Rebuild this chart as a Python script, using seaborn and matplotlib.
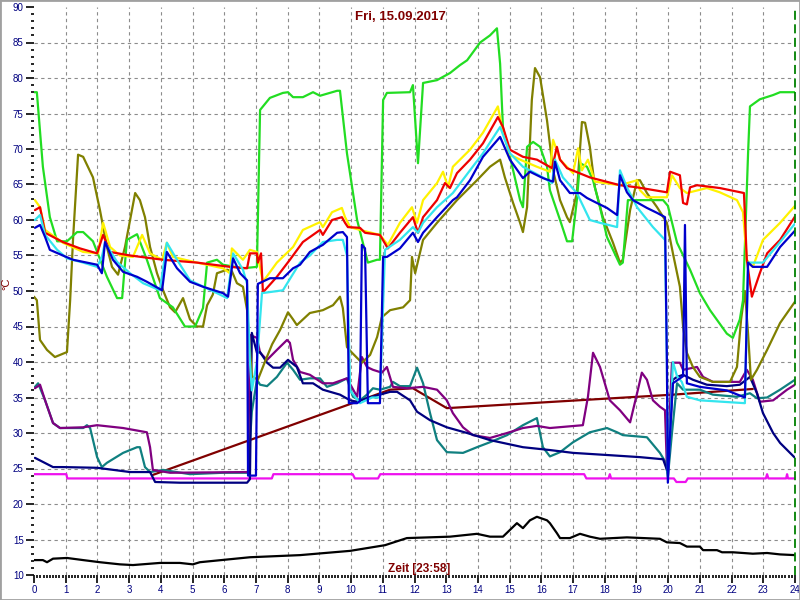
import matplotlib
matplotlib.use("Agg")
import matplotlib.pyplot as plt
from matplotlib.patches import Rectangle
from matplotlib.ticker import MultipleLocator
import seaborn as sns

# --- data (hour of day, temperature in °C) ---
green_h = [0.00, 0.09, 0.28, 0.50, 0.73, 1.04, 1.36, 1.55, 1.86, 2.30,
           2.62, 2.78, 2.93, 3.25, 3.56, 3.97, 4.38, 4.76, 5.08, 5.33,
           5.46, 5.77, 5.96, 6.59, 7.03, 7.13, 7.44, 7.85, 8.01, 8.17,
           8.48, 8.80, 9.02, 9.56, 9.65, 9.87, 10.19, 10.53, 10.82, 10.91,
           11.01, 11.13, 11.86, 11.95, 12.11, 12.27, 12.71, 13.12, 13.43, 13.66,
           14.07, 14.38, 14.60, 14.70, 14.79, 15.11, 15.33, 15.42, 15.55, 15.74,
           15.96, 16.18, 16.27, 16.59, 16.81, 16.97, 17.12, 17.22, 17.44, 17.63,
           17.85, 18.07, 18.48, 18.57, 18.73, 19.84, 19.99, 20.28, 20.69, 21.00,
           21.32, 21.85, 22.04, 22.26, 22.36, 22.52, 22.58, 22.89, 23.31, 23.53,
           24.00]
green_t = [78, 78, 67.5, 60.4, 57, 57, 58.3, 58.3, 57, 52,
           49, 49, 57.2, 58, 54.4, 49, 47.7, 45, 45, 47.6,
           54, 54.4, 53.7, 53.2, 53.4, 75.5, 77.2, 77.9, 78, 77.3,
           77.3, 78, 77.5, 78.2, 78.2, 69.4, 60, 54, 54.4, 54.4,
           76.9, 77.9, 78, 79, 68, 79.3, 79.7, 80.7, 81.8, 82.5,
           85, 86, 87, 82, 73, 67, 62.8, 61.8, 70.3, 71,
           70.3, 67.5, 64.2, 60, 57, 57, 62.8, 68, 67.5, 65.6,
           61.8, 57.6, 53.7, 54, 62.8, 62.8, 62, 56.8, 53, 49.7,
           47.3, 44, 43.4, 46, 48.7, 69.4, 76, 77, 77.6, 78,
           78]

yellow_h = [0.03, 0.19, 0.35, 0.91, 1.55, 2.02, 2.18, 2.40, 2.71, 3.12,
            3.41, 3.66, 4.04, 4.19, 4.38, 5.14, 5.96, 6.18, 6.24, 6.59,
            6.81, 7.03, 7.22, 7.66, 8.17, 8.48, 9.02, 9.11, 9.40, 9.71,
            9.81, 9.97, 10.28, 10.91, 11.16, 11.54, 11.92, 12.08, 12.27, 12.71,
            12.90, 13.06, 13.21, 13.75, 14.16, 14.63, 14.79, 15.01, 15.33, 15.86,
            16.27, 16.37, 16.59, 17.00, 17.16, 17.28, 17.47, 17.69, 18.48, 19.02,
            19.11, 19.33, 19.96, 20.12, 20.37, 20.59, 21.22, 21.63, 22.17, 22.36,
            22.48, 22.67, 22.99, 23.53, 24.00]
yellow_t = [62.8, 61.8, 58.6, 56.8, 55.5, 55.3, 59.6, 56.2, 55, 54.8,
            57.9, 55.3, 54.4, 56.8, 54.8, 54, 53.2, 52.5, 56, 54.4,
            55.8, 55.5, 51.3, 54, 56.2, 58.6, 59.7, 59, 61.1, 61.7,
            60.4, 59, 58.6, 57.9, 56.5, 59.6, 61.8, 59.6, 62.8, 65.2,
            66.8, 64.6, 67.5, 69.9, 72.3, 76, 72.3, 69.2, 68.5, 67.5,
            66.8, 71.3, 68.5, 66.6, 70.1, 67, 68.5, 65.4, 64.9, 65.6,
            64.2, 63.2, 63.2, 66.3, 64.5, 63.8, 64.5, 63.9, 62.8, 61.1,
            54.4, 53.4, 57.2, 59.6, 62]

red_h = [0.03, 0.19, 0.35, 0.91, 1.45, 1.99, 2.18, 2.40, 3.03, 4.07,
         5.14, 6.18, 6.72, 6.81, 7.03, 7.06, 7.16, 7.22, 7.66, 8.07,
         8.48, 9.02, 9.11, 9.40, 9.71, 9.81, 9.90, 10.28, 10.44, 10.91,
         11.16, 11.54, 11.95, 12.11, 12.27, 12.71, 12.96, 13.12, 13.34, 13.75,
         14.16, 14.63, 14.79, 15.01, 15.42, 15.86, 16.34, 16.49, 16.59, 16.81,
         17.53, 18.48, 19.02, 19.96, 20.06, 20.37, 20.47, 20.59, 20.69, 20.91,
         21.63, 22.39, 22.48, 22.64, 22.89, 23.12, 23.53, 24.00]
red_t = [61.4, 61.8, 58.2, 56.9, 56, 55.3, 57.9, 55.5, 55, 54.4,
         54, 53.4, 53.2, 55.3, 55.3, 54, 55.3, 49.8, 52, 54.4,
         56.9, 58.6, 57.9, 60, 60.4, 59.6, 59, 58.9, 58.2, 57.9,
         56, 58.2, 60.4, 58.2, 60.4, 62.8, 65.2, 64.5, 66.6, 68.5,
         70.8, 74.5, 73.1, 69.9, 68.9, 68.5, 67.3, 70.3, 68.5, 67.3,
         66, 64.9, 64.6, 63.9, 66.8, 66.3, 62.4, 62.2, 64.6, 64.9,
         64.5, 63.8, 54.4, 49.2, 52.5, 55.3, 57.2, 60.5]

cyan_h = [0.03, 0.19, 0.35, 0.73, 1.04, 1.55, 1.99, 2.14, 2.24, 2.62,
          3.03, 3.44, 3.97, 4.19, 4.51, 4.92, 5.77, 6.09, 6.28, 6.59,
          6.72, 6.81, 6.87, 7.03, 7.19, 7.85, 8.39, 8.70, 9.11, 9.56,
          9.74, 9.87, 9.97, 10.28, 10.66, 10.91, 11.07, 11.54, 11.95, 12.11,
          12.27, 12.71, 13.21, 13.75, 14.16, 14.70, 15.01, 15.42, 16.05, 16.34,
          16.43, 16.68, 17.12, 17.53, 17.85, 18.39, 18.48, 18.70, 19.02, 19.52,
          19.90, 19.96, 19.99, 20.06, 20.15, 20.28, 20.43, 20.59, 21.00, 22.42,
          22.52, 22.99, 23.53, 24.00]
cyan_t = [60, 60.7, 57.9, 55.8, 54.6, 54, 53.4, 54.8, 56.8, 54.1,
          52.5, 51.1, 50.1, 56.8, 54.4, 51.5, 49.7, 49, 55.3, 53,
          51, 40, 36, 40, 49.7, 50.1, 54, 55, 56.9, 57.2,
          57.2, 55, 36, 34.2, 35, 35, 55.8, 57.2, 59, 58.2,
          59.6, 61.8, 63.8, 67, 69.4, 73.1, 69.4, 67.5, 66, 65.2,
          68.5, 66, 63.8, 60, 59.6, 59, 67, 64.6, 61.8, 59,
          57.2, 40, 24.5, 30, 40, 38, 37.2, 35.1, 34.6, 34.2,
          54, 54, 56.9, 59.5]

blue_h = [0.03, 0.19, 0.35, 0.50, 0.91, 1.23, 1.99, 2.14, 2.24, 2.49,
          2.81, 3.25, 3.56, 4.04, 4.19, 4.51, 4.92, 5.33, 5.96, 6.12,
          6.28, 6.50, 6.72, 6.75, 6.81, 7.00, 7.06, 7.44, 7.85, 8.17,
          8.39, 8.70, 9.11, 9.56, 9.74, 9.87, 9.93, 10.19, 10.28, 10.34,
          10.44, 10.53, 10.91, 11.01, 11.13, 11.54, 11.95, 12.11, 12.27, 12.71,
          13.21, 13.34, 13.75, 14.16, 14.70, 15.01, 15.42, 15.64, 16.05, 16.37,
          16.43, 16.59, 16.90, 17.22, 17.44, 17.75, 18.07, 18.39, 18.48, 18.70,
          18.89, 19.33, 19.65, 19.90, 19.96, 19.99, 20.06, 20.15, 20.47, 20.53,
          20.59, 21.00, 21.85, 22.42, 22.52, 22.67, 23.12, 23.53, 24.00]
blue_t = [58.9, 59.3, 57.6, 55.8, 55, 54.4, 53.7, 52.5, 56.9, 54.4,
          52.7, 52, 51.3, 50.1, 55.5, 53.2, 51.3, 50.6, 49.7, 49.2,
          54.6, 52.5, 51.5, 24, 24, 24, 51, 51.8, 51.8, 53.2,
          53.7, 55.5, 56.5, 58.2, 58.3, 57.6, 34.2, 34.2, 34.5, 56.5,
          56, 34.2, 34.2, 54.8, 54.8, 56, 58.2, 56.9, 58.2, 60.4,
          62.8, 63.2, 65.6, 68.9, 71.7, 68.5, 65.9, 66.8, 65.9, 65.4,
          68.2, 65.6, 63.8, 63.8, 63.1, 62.4, 61.7, 60.7, 66.3, 63.9,
          62.8, 61.7, 61, 60.4, 40, 23, 30, 37, 38, 59.3,
          37, 36.5, 36, 35, 54, 53.4, 53.4, 56.2, 58.5]

olive_h = [0.00, 0.09, 0.19, 0.41, 0.66, 1.04, 1.14, 1.23, 1.39, 1.55,
           1.86, 2.08, 2.30, 2.46, 2.65, 2.87, 3.03, 3.19, 3.34, 3.50,
           3.66, 3.88, 4.07, 4.29, 4.45, 4.70, 4.92, 5.14, 5.33, 5.46,
           5.64, 5.77, 6.09, 6.24, 6.40, 6.59, 6.72, 6.87, 7.06, 7.28,
           7.51, 7.76, 8.01, 8.17, 8.29, 8.70, 9.11, 9.43, 9.65, 9.74,
           9.87, 10.03, 10.34, 10.60, 10.82, 10.97, 11.23, 11.64, 11.86, 11.92,
           12.02, 12.27, 12.71, 13.34, 13.97, 14.38, 14.70, 14.85, 15.11, 15.33,
           15.42, 15.55, 15.70, 15.80, 15.96, 16.18, 16.37, 16.59, 16.81, 16.90,
           17.12, 17.28, 17.38, 17.53, 17.69, 17.94, 18.26, 18.48, 18.57, 18.80,
           19.02, 19.11, 19.33, 19.65, 19.96, 20.15, 20.37, 20.47, 20.59, 20.78,
           21.00, 21.41, 21.95, 22.17, 22.30, 22.42, 22.52, 22.61, 22.80, 23.12,
           23.53, 24.00]
olive_t = [49.2, 48.7, 43.1, 41.7, 40.7, 41.4, 48.7, 57.2, 69.2, 68.9,
           66, 61.4, 56.2, 53.4, 52.3, 56.2, 60, 63.8, 62.8, 60.4,
           56.2, 52.5, 50.1, 47.7, 47, 49, 46, 45, 45, 48,
           49.5, 52.5, 53, 52.8, 51.1, 50.6, 47.3, 38, 37.5, 40,
           42.5, 44.5, 47, 46, 45.2, 46.9, 47.3, 48, 49.2, 47.6,
           42.1, 41.3, 39.9, 41, 43.5, 46.3, 47.3, 47.7, 48.7, 54.8,
           52.5, 57.2, 59.6, 62.8, 65.6, 67.5, 68.5, 66, 62.4, 59.6,
           58.3, 61.8, 76.9, 81.4, 80.1, 74, 67, 62.8, 60.4, 59.7,
           63.8, 73.8, 73.7, 70.3, 64.6, 60.4, 56.8, 54, 54.4, 61.4,
           65.6, 65.6, 63.8, 61.8, 59.6, 55.3, 50.6, 45, 41.3, 39.3,
           37.9, 37.2, 37.2, 39.3, 46, 50, 44, 37.5, 38.9, 41.7,
           45.5, 48.5]

maroon_h = [3.75, 11.23, 11.95, 13.02, 20.15, 22.67]
maroon_t = [24.1, 36.1, 36.3, 33.5, 35.4, 36.2]

purple_h = [0.03, 0.19, 0.35, 0.60, 0.82, 1.55, 1.99, 2.81, 3.56, 3.66,
            3.75, 4.29, 6.75, 6.81, 7.03, 7.13, 7.35, 7.66, 7.98, 8.07,
            8.17, 8.39, 8.70, 9.11, 9.43, 9.87, 10.19, 10.34, 10.50, 10.69,
            10.97, 11.13, 11.32, 11.76, 12.27, 12.71, 13.02, 13.21, 13.53, 13.84,
            14.38, 14.92, 15.42, 15.86, 16.27, 17.31, 17.47, 17.63, 17.85, 18.16,
            18.48, 18.80, 19.02, 19.17, 19.33, 19.52, 19.74, 19.90, 19.96, 20.02,
            20.12, 20.37, 20.47, 20.91, 21.10, 21.41, 22.26, 22.48, 22.67, 22.89,
            23.31, 23.75, 24.00]
purple_t = [36.3, 36.8, 34.6, 31.4, 30.7, 30.8, 31.1, 30.7, 30.1, 28,
            24.8, 24.4, 24.5, 43.8, 43.4, 41.3, 40.3, 41.7, 43.1, 42.7,
            40.3, 38.6, 38.2, 37, 37, 37.7, 35.1, 40.7, 39.3, 38.9,
            38.5, 39.3, 36.5, 36.3, 36.5, 36.1, 34.6, 32.8, 30.8, 29.7,
            29.3, 30, 30.7, 31, 30.7, 31.1, 35.1, 41.3, 39.3, 34.6,
            33.2, 31.5, 35.6, 38.5, 37.5, 34.6, 33.7, 33.2, 25.2, 30,
            39.9, 39.9, 38.9, 39.3, 37.9, 37.2, 37.2, 38.9, 37.5, 34.4,
            34.6, 36.1, 36.8]

teal_h = [0.03, 0.13, 0.35, 0.60, 0.82, 1.55, 1.67, 1.77, 1.99, 2.14,
          2.30, 2.81, 3.25, 3.34, 3.50, 3.66, 4.07, 4.92, 5.96, 6.75,
          6.87, 7.03, 7.13, 7.35, 7.66, 7.98, 8.17, 8.39, 8.70, 9.02,
          9.24, 9.56, 9.87, 10.06, 10.28, 10.50, 10.69, 10.91, 11.23, 11.32,
          11.54, 11.86, 12.08, 12.27, 12.49, 12.71, 13.02, 13.53, 13.97, 14.38,
          14.92, 15.42, 15.86, 16.05, 16.27, 16.59, 17.00, 17.53, 18.07, 18.39,
          18.57, 19.33, 19.74, 19.93, 19.99, 20.12, 20.28, 20.47, 21.00, 21.41,
          22.17, 22.58, 22.80, 23.12, 23.53, 24.00]
teal_t = [36.5, 37, 34.6, 31.4, 30.7, 30.7, 31.1, 30.7, 26.6, 25.2,
          25.8, 27.2, 28, 28, 25.2, 24.5, 24.8, 24.2, 24.4, 24.4,
          33, 37.5, 36.8, 36.6, 37.9, 39.9, 38.9, 37.5, 37.7, 37.7,
          36.5, 37, 37.7, 35.1, 34.6, 35.4, 36.3, 36.1, 36.5, 37.2,
          36.6, 36.6, 39.2, 37, 32.8, 29, 27.3, 27.2, 28, 28.7,
          29.7, 31.1, 32.1, 28, 26.7, 27.3, 28.7, 30.1, 30.7, 30.1,
          29.7, 29.4, 27.2, 25.8, 23.8, 30, 37, 36.1, 36.1, 35.4,
          35.1, 35.6, 34.9, 35, 36.1, 37.5]

navy_h = [0.03, 0.60, 0.91, 1.99, 3.03, 3.66, 3.82, 4.60, 6.72, 6.81,
          6.87, 7.03, 7.13, 7.35, 7.54, 7.76, 8.01, 8.29, 8.48, 8.80,
          9.11, 9.65, 9.97, 10.19, 10.50, 10.91, 11.23, 11.45, 11.86, 12.08,
          12.49, 13.02, 13.66, 14.38, 15.42, 16.27, 17.00, 18.07, 19.11, 19.84,
          19.96, 20.06, 20.15, 20.28, 20.47, 20.78, 21.22, 21.85, 22.26, 22.58,
          22.80, 22.99, 23.31, 23.53, 24.00]
navy_t = [26.5, 25.2, 25.2, 25.1, 24.5, 24.5, 23.1, 23, 23, 23.5,
          44.1, 41.3, 41.4, 39.9, 39.2, 39.2, 40.3, 39.3, 37, 37,
          36.1, 35.4, 34.6, 34.4, 34.9, 35.4, 35.8, 35.8, 34.6, 33,
          31.8, 30.8, 30, 29, 28, 27.6, 27.2, 26.9, 26.6, 26.3,
          24.8, 30, 37.5, 37.9, 38.2, 37.5, 36.8, 36.6, 36.8, 37.9,
          35.6, 32.8, 30, 28.6, 26.5]

magenta_h = [0, 1.02, 1.05, 7.50, 7.55, 10.05, 10.12, 10.85, 10.92, 17.35,
             17.42, 18.12, 18.16, 18.20, 20.18, 20.26, 20.55, 20.62, 23.08, 23.12,
             23.16, 23.72, 23.75, 23.78, 24]
magenta_t = [24.2, 24.2, 23.6, 23.6, 24.2, 24.2, 23.6, 23.6, 24.2, 24.2,
             23.6, 23.6, 24.2, 23.6, 23.6, 23.1, 23.1, 23.6, 23.6, 24.2,
             23.6, 23.6, 24.2, 23.6, 23.6]

black_h = [0, 0.28, 0.41, 0.60, 1.04, 1.55, 2.08, 2.71, 3.12, 3.97,
           4.60, 5.01, 5.23, 6.81, 8.39, 9.97, 11.07, 11.76, 13.12, 13.97,
           14.38, 14.79, 15.23, 15.42, 15.64, 15.86, 16.18, 16.27, 16.49, 16.59,
           16.90, 17.22, 17.53, 17.85, 18.70, 19.74, 19.96, 20.37, 20.59, 21.00,
           21.10, 21.54, 21.70, 22.04, 22.36, 22.67, 23.12, 23.53, 24.00]
black_t = [12.1, 12.1, 11.8, 12.3, 12.4, 12.1, 11.8, 11.5, 11.4, 11.7,
           11.7, 11.5, 11.8, 12.5, 12.8, 13.4, 14.2, 15.2, 15.4, 15.8,
           15.4, 15.4, 17.3, 16.6, 17.7, 18.2, 17.7, 17.3, 15.9, 15.2,
           15.2, 15.8, 15.4, 15.1, 15.3, 15.1, 14.6, 14.5, 14, 14,
           13.5, 13.5, 13.2, 13.2, 13.1, 13, 13.1, 12.9, 12.8]

title_text = "Fri, 15.09.2017"
time_text = "Zeit [23:58]"
unit_text = "°C"

# drawing order: bottom first
SERIES = [
    (black_h, black_t, "#000000"),
    (magenta_h, magenta_t, "#EE11EE"),
    (maroon_h, maroon_t, "#800000"),
    (teal_h, teal_t, "#108080"),
    (purple_h, purple_t, "#800080"),
    (navy_h, navy_t, "#000080"),
    (olive_h, olive_t, "#808000"),
    (green_h, green_t, "#22DD22"),
    (yellow_h, yellow_t, "#FFF200"),
    (red_h, red_t, "#EE0000"),
    (cyan_h, cyan_t, "#33E5EE"),
    (blue_h, blue_t, "#0000CC"),
]


def plot_chart():
    sns.set_style("white")
    plt.rcParams["font.family"] = ["Liberation Sans", "DejaVu Sans"]

    fig = plt.figure(figsize=(8, 6), dpi=100)
    ax = fig.add_axes([34 / 800, 25 / 600, 761 / 800, 568 / 600])

    # dashed grid, inner lines only
    grid_style = dict(color="#8C8C8C", lw=0.8, ls=(0, (3, 3)), zorder=0)
    for v in range(15, 90, 5):
        ax.axhline(v, **grid_style)
    for h in range(1, 24):
        ax.axvline(h, **grid_style)

    for hours, temps, color in SERIES:
        sns.lineplot(x=hours, y=temps, ax=ax, color=color, linewidth=1.6,
                     estimator=None, sort=False, legend=False)

    # current time marker
    ax.axvline(24, color="#008000", lw=1.3, ls=(0, (5, 2.5)), clip_on=False)

    ax.set_xlim(0, 24)
    ax.set_ylim(10, 90)
    ax.set_xlabel("")
    ax.set_ylabel("")
    ax.set_xticks(range(0, 25))
    ax.set_yticks(range(10, 91, 5))
    ax.xaxis.set_minor_locator(MultipleLocator(0.1))
    ax.yaxis.set_minor_locator(MultipleLocator(1))
    for side in ["top", "right", "bottom", "left"]:
        ax.spines[side].set_visible(False)

    ax.tick_params(which="both", bottom=True, left=True, direction="out",
                   color="black", width=1.2)
    ax.tick_params(which="major", length=6, pad=1.5, labelsize=7,
                   labelcolor="#000080")
    ax.tick_params(which="minor", length=2.5)

    fig.text(0.5, 1 - 17 / 600, title_text, ha="center", va="center",
             fontsize=9.5, fontweight="bold", color="#800000")
    fig.text(419 / 800, 1 - 569 / 600, time_text, ha="center", va="center",
             fontsize=8.5, fontweight="bold", color="#800000")
    fig.text(6 / 800, 1 - 284 / 600, unit_text, ha="center", va="center",
             rotation=90, fontsize=8, color="#800000")

    fig.patches.append(Rectangle((0, 0), 1, 1, transform=fig.transFigure,
                                 fill=False, edgecolor="#A0A0A0", lw=2))

    fig.savefig("out.png", dpi=100)


if __name__ == "__main__":
    plot_chart()
